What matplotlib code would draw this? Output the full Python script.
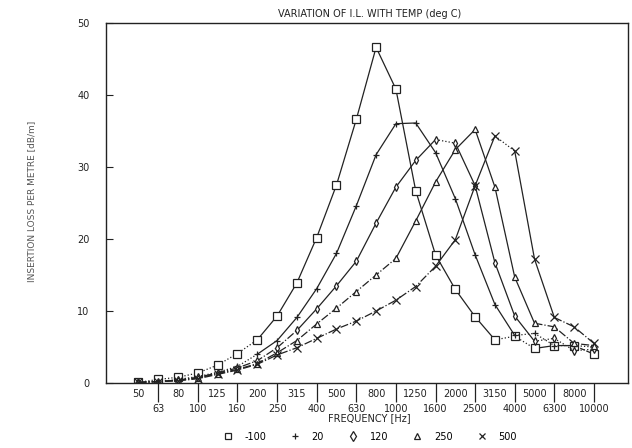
import numpy as np
import matplotlib
matplotlib.use("Agg")
import matplotlib.pyplot as plt
from matplotlib.lines import Line2D

# third-octave band centres
freqs = ['50', '63', '80', '100', '125', '160', '200', '250', '315', '400', '500', '630',
         '800', '1000', '1250', '1600', '2000', '2500', '3150', '4000', '5000', '6300',
         '8000', '10000']

# insertion loss (dB/m), one list per temperature
temps = ['-100', '20', '120', '250', '500']
il_m100 = [0.1, 0.5, 0.8, 1.4, 2.5, 4.1, 6.0, 9.3, 13.9, 20.2, 27.5, 36.6, 46.6, 40.8,
           26.7, 17.8, 13.0, 9.2, 6.0, 6.5, 4.8, 5.2, 5.2, 4.0]
il_20 = [0.1, 0.2, 0.5, 0.9, 1.5, 2.3, 4.0, 5.9, 9.1, 13.1, 18.0, 24.6, 31.7, 36.0,
         36.1, 32.0, 25.6, 17.8, 10.9, 6.6, 6.9, 5.2, 5.2, 5.0]
il_120 = [0.1, 0.2, 0.4, 0.8, 1.4, 2.1, 3.1, 4.9, 7.3, 10.3, 13.5, 16.9, 22.2, 27.2,
          30.9, 33.8, 33.3, 27.4, 16.7, 9.3, 5.8, 6.2, 4.5, 4.7]
il_250 = [0.1, 0.2, 0.4, 0.7, 1.3, 1.9, 2.7, 4.2, 5.9, 8.2, 10.4, 12.7, 15.0, 17.3,
          22.5, 27.9, 32.4, 35.2, 27.2, 14.7, 8.3, 7.8, 5.5, 5.2]
il_500 = [0.1, 0.2, 0.3, 0.6, 1.2, 1.8, 2.6, 3.9, 4.9, 6.2, 7.5, 8.6, 10.0, 11.5,
          13.4, 16.2, 19.9, 27.4, 34.3, 32.2, 17.2, 9.1, 7.8, 5.5]

series = [il_m100, il_20, il_120, il_250, il_500]
markers = ['s', '+', 'd', '^', 'x']
msizes = [5.5, 5, 4, 4.5, 5.5]
# line style per stretch of each curve (start index, end index, style)
pieces = [
    [(0, 6, ':'), (6, 18, '-'), (18, 20, ':'), (20, 22, '-'), (22, 23, '--')],
    [(0, 6, ':'), (6, 19, '-'), (19, 23, ':')],
    [(0, 8, '-.'), (8, 15, '-'), (15, 16, ':'), (16, 20, '-'), (20, 23, ':')],
    [(0, 13, '-.'), (13, 20, '-'), (20, 23, '-.')],
    [(0, 15, '-.'), (15, 18, '-'), (18, 19, ':'), (19, 21, '-'), (21, 23, '-.')],
]

plt.rcParams['font.family'] = 'DejaVu Sans'
ink = '#222222'

fig = plt.figure(figsize=(6.32, 4.48), dpi=100)
ax = fig.add_axes([0.168, 0.145, 0.826, 0.804])

x = np.arange(len(freqs))
for vals, mk, ms, segs in zip(series, markers, msizes, pieces):
    vals = np.array(vals)
    for a, b, ls in segs:
        ax.plot(x[a:b + 1], vals[a:b + 1], color=ink, lw=0.9, ls=ls)
    ax.plot(x, vals, ls='none', marker=mk, ms=ms, mfc='white', mec=ink, mew=0.9)

ax.set_xlim(-1.63, 24.73)
ax.set_ylim(0, 50)
ax.set_yticks([0, 10, 20, 30, 40, 50])
ax.tick_params(axis='y', direction='in', length=5, labelsize=7, colors=ink, pad=12)

# alternate the frequency labels on two rows, the lower row with a long tick
ax.set_xticks(x[0::2], labels=freqs[0::2])
ax.set_xticks(x[1::2], labels=freqs[1::2], minor=True)
ax.tick_params(axis='x', which='major', length=0, pad=4, labelsize=7, colors=ink)
ax.tick_params(axis='x', which='minor', length=14, width=0.9, pad=1, labelsize=7,
               colors=ink, direction='out')

for s in ax.spines.values():
    s.set_color(ink)
    s.set_linewidth(1.0)

fig.text(0.585, 0.968, 'VARIATION OF I.L. WITH TEMP (deg C)', ha='center',
         va='center', fontsize=7, color=ink)
fig.text(0.585, 0.067, 'FREQUENCY [Hz]', ha='center', va='center', fontsize=7, color=ink)
fig.text(0.05, 0.55, 'INSERTION LOSS PER METRE [dB/m]', rotation=90, ha='center',
         va='center', fontsize=6.5, color='#555555')

handles = [Line2D([], [], ls='none', marker=mk, ms=5, mfc='white', mec=ink, mew=0.9)
           for mk in markers]
fig.legend(handles, temps, loc='center', bbox_to_anchor=(0.585, 0.025), ncol=5,
           frameon=False, fontsize=7, handletextpad=1.2, columnspacing=2.5,
           handlelength=1.0)

fig.savefig('out.png', dpi=100)
